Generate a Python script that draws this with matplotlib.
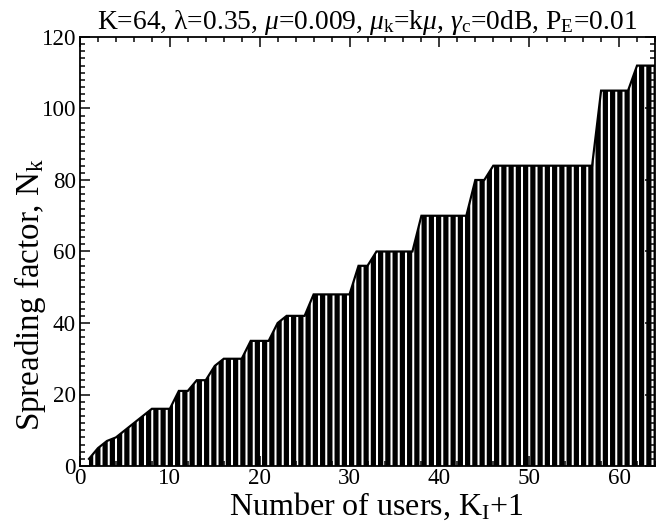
import matplotlib
matplotlib.use("Agg")
import matplotlib.pyplot as plt
from matplotlib.ticker import MultipleLocator

# Data
users = list(range(1, 65))
spreading = [2, 5, 7, 8, 10, 12, 14, 16, 16, 16,
             21, 21, 24, 24, 28, 30, 30, 30, 35, 35,
             35, 40, 42, 42, 42, 48, 48, 48, 48, 48,
             56, 56, 60, 60, 60, 60, 60, 70, 70, 70,
             70, 70, 70, 80, 80, 84, 84, 84, 84, 84,
             84, 84, 84, 84, 84, 84, 84, 105, 105, 105,
             105, 112, 112, 112]
title = r'K=64, $\mathrm{\lambda}$=0.35, $\mu$=0.009, $\mu_\mathrm{k}$=k$\mu$, $\gamma_\mathrm{c}$=0dB, P$_\mathrm{E}$=0.01'
xlabel = r'Number of users, K$_\mathrm{I}$+1'
ylabel = r'Spreading factor, N$_\mathrm{k}$'

DPI = 87
def px(p):
    return p * 72.0 / DPI

plt.rcParams['font.family'] = ['Liberation Serif', 'DejaVu Serif']
plt.rcParams['mathtext.fontset'] = 'custom'
plt.rcParams['mathtext.rm'] = 'Liberation Serif'
plt.rcParams['mathtext.it'] = 'Liberation Serif:italic'
plt.rcParams['mathtext.bf'] = 'Liberation Serif:bold'
plt.rcParams['hatch.linewidth'] = px(5.2)
plt.rcParams['hatch.color'] = 'black'

fig = plt.figure(figsize=(663 / DPI, 523 / DPI), dpi=DPI)
ax = fig.add_axes([80 / 663, 1 - 466 / 523, 575 / 663, 429 / 523])

ax.fill_between(users, spreading, 0, facecolor='white', edgecolor='black',
                hatch='||', linewidth=0)
ax.plot(users, spreading, color='black', lw=px(2.2), solid_joinstyle='miter')

ax.set_xlim(0, 64)
ax.set_ylim(0, 120)
ax.xaxis.set_major_locator(MultipleLocator(10))
ax.xaxis.set_minor_locator(MultipleLocator(2))
ax.yaxis.set_major_locator(MultipleLocator(20))
ax.yaxis.set_minor_locator(MultipleLocator(2))
ax.tick_params(which='both', direction='in', top=True, right=True,
               labelsize=px(23), width=px(1.5), pad=px(4))
ax.tick_params(axis='x', which='both', pad=px(2))
ax.tick_params(which='major', length=px(10))
ax.tick_params(which='minor', length=px(5))
for s in ax.spines.values():
    s.set_linewidth(px(1.8))

ax.set_title(title, fontsize=px(27.5), pad=px(7))
ax.set_xlabel(xlabel, fontsize=px(32))
ax.set_ylabel(ylabel, fontsize=px(33))
ax.xaxis.set_label_coords((376 - 80) / 575, (466 - 491) / 429)
ax.yaxis.set_label_coords((48 - 80) / 575, (466 - 294) / 429)

fig.savefig('out.png', dpi=DPI)
